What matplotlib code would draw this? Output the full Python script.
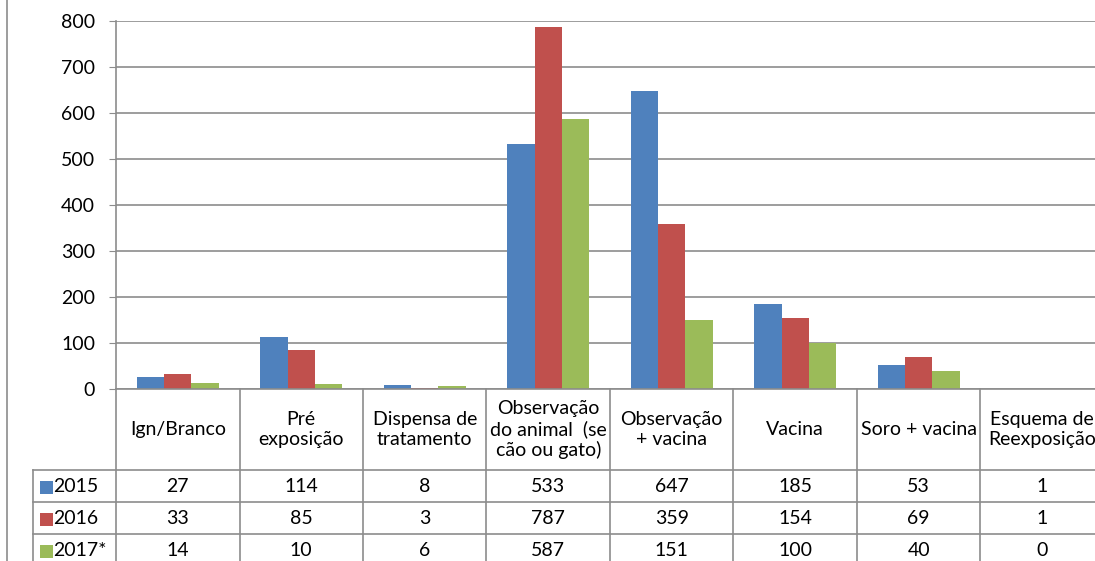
import matplotlib.pyplot as plt
from matplotlib.lines import Line2D
from matplotlib.patches import Rectangle

categories = ['Ign/Branco', 'Pré\nexposição', 'Dispensa de\ntratamento',
              'Observação\ndo animal  (se\ncão ou gato)', 'Observação\n+ vacina',
              'Vacina', 'Soro + vacina', 'Esquema de\nReexposição']
series_names = ['2015', '2016', '2017*']
v2015 = [27, 114, 8, 533, 647, 185, 53, 1]
v2016 = [33, 85, 3, 787, 359, 154, 69, 1]
v2017 = [14, 10, 6, 587, 151, 100, 40, 0]
colors = ['#4F81BD', '#C0504D', '#9BBB59']

plt.rcParams['font.family'] = ['Lato', 'DejaVu Sans']
fs = 14

W, H = 1095, 561
fig = plt.figure(figsize=(W / 100, H / 100), dpi=100)

# plot area in pixels (category width ~123.5 px, last column cut by image edge)
x0, x1 = 116, 116 + 8 * 123.5
ytop, ybot = 21, 389
ax = fig.add_axes([x0 / W, (H - ybot) / H, (x1 - x0) / W, (ybot - ytop) / H])

n = len(categories)
bw = 1 / 4.5
data = [v2015, v2016, v2017]
for k, vals in enumerate(data):
    ax.bar([i + (k - 1) * bw for i in range(n)], vals, width=bw, color=colors[k],
           zorder=3, linewidth=0)

ax.set_xlim(-0.5, n - 0.5)
ax.set_ylim(0, 800)
ax.set_yticks(range(0, 801, 100))
ax.set_xticks([])
ax.yaxis.grid(True, color='#8C8C8C', linewidth=1.2, zorder=0)
for s in ['top', 'right', 'bottom']:
    ax.spines[s].set_visible(False)
ax.spines['left'].set_color('#8C8C8C')
ax.spines['left'].set_linewidth(1.2)
ax.tick_params(axis='y', length=5, color='#8C8C8C', labelsize=fs, pad=10)

# data table below the plot, x in category units, y in pixels
lab_left = -0.5 - (x0 - 33) / 123.5
tab = fig.add_axes([33 / W, 0, (x1 - 33) / W, (H - ybot) / H])
tab.set_xlim(lab_left, n - 0.5)
tab.set_ylim(H, ybot)
tab.axis('off')

gc = '#8C8C8C'
rows_y = [470, 502, 534, 566]
tab.add_line(Line2D([-0.5, n - 0.5], [ybot, ybot], color=gc, lw=1.2, clip_on=False))
for yy in rows_y:
    tab.add_line(Line2D([lab_left, n - 0.5], [yy, yy], color=gc, lw=1.2, clip_on=False))
for i in range(n + 1):
    tab.add_line(Line2D([i - 0.5, i - 0.5], [ybot, H], color=gc, lw=1.2, clip_on=False))
tab.add_line(Line2D([lab_left, lab_left], [rows_y[0], H], color=gc, lw=1.2, clip_on=False))

for i, c in enumerate(categories):
    tab.text(i, (ybot + rows_y[0]) / 2, c, ha='center', va='center', fontsize=fs,
             linespacing=1.22, clip_on=False)

for k, vals in enumerate(data):
    yc = (rows_y[k] + rows_y[k + 1]) / 2 + 1
    tab.add_patch(Rectangle((lab_left + 0.055, yc - 6.5), 0.105, 13, color=colors[k], lw=0))
    tab.text(lab_left + 0.165, yc, series_names[k], ha='left', va='center', fontsize=fs)
    for i, v in enumerate(vals):
        tab.text(i, yc, str(v), ha='center', va='center', fontsize=fs)

# outer frame line at left
fig.add_artist(Line2D([7 / W, 7 / W], [0, 1], color=gc, lw=1.2))

fig.savefig('out.png', dpi=100)
